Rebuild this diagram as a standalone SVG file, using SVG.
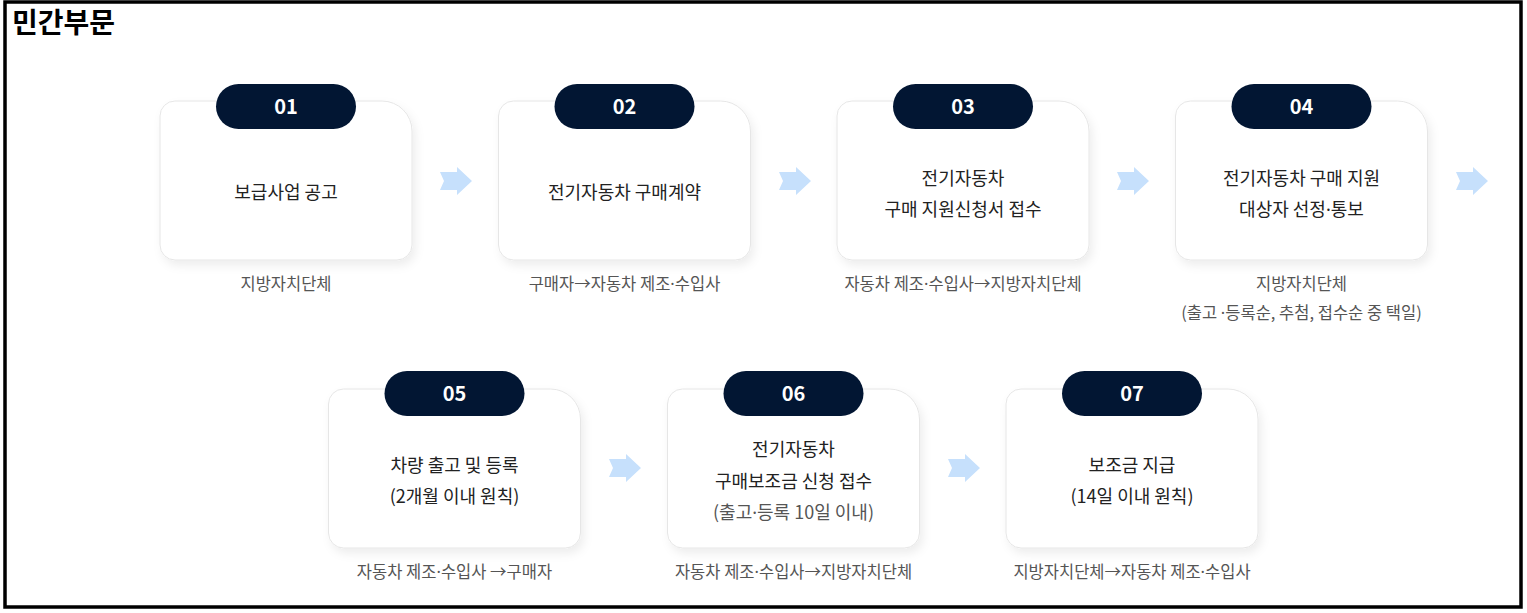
<svg xmlns="http://www.w3.org/2000/svg" xmlns:xlink="http://www.w3.org/1999/xlink" width="1527" height="613" viewBox="0 0 1527 613">
<defs>
<filter id="sh" x="-10%" y="-10%" width="125%" height="130%">
<feDropShadow dx="3" dy="5" stdDeviation="5" flood-color="#000" flood-opacity="0.07"/>
</filter>
<path id="card" d="M15,0 H222 A30,30 0 0 1 252,30 V144 A15,15 0 0 1 237,159 H15 A15,15 0 0 1 0,144 V15 A15,15 0 0 1 15,0 Z"/>
<polygon id="arr" points="-16,-9 1,-9 1,-14 16,0 1,14 1,9 -16,9 -12,0"/>
<style>
.c{fill:#fff;stroke:#e6e6e6;stroke-width:1;filter:url(#sh)}
.p{fill:#021633}
.n{font-family:"Noto Sans CJK KR","Noto Sans",sans-serif;font-size:20px;font-weight:700;fill:#fff;text-anchor:middle}
.m{font-family:"Noto Sans CJK KR","Noto Sans",sans-serif;font-size:18px;fill:#222;text-anchor:middle}
.g{fill:#555}
.s{font-family:"Noto Sans CJK KR","Noto Sans",sans-serif;font-size:16.5px;fill:#555;text-anchor:middle}
.d{font-family:"Noto Sans","DejaVu Sans",sans-serif}
.a{fill:#c6e0fc}
</style>
</defs>
<rect x="0" y="0" width="1527" height="613" fill="#fff"/>
<rect x="5" y="2" width="1516" height="605" fill="none" stroke="#000" stroke-width="3.5"/>
<text x="12" y="33" font-family="'Noto Sans CJK KR',sans-serif" font-size="28" font-weight="700" fill="#000">민간부문</text>

<g id="connectors">
<use xlink:href="#arr" class="a" x="456" y="181"/>
<use xlink:href="#arr" class="a" x="795" y="181"/>
<use xlink:href="#arr" class="a" x="1133" y="181"/>
<use xlink:href="#arr" class="a" x="1472" y="181"/>
<use xlink:href="#arr" class="a" x="625" y="468"/>
<use xlink:href="#arr" class="a" x="964" y="468"/>
</g>

<g id="n01">
<use xlink:href="#card" class="c" x="160" y="101"/>
<rect class="p" x="216" y="84" width="140" height="45" rx="22.5"/>
<text class="n" x="286" y="114">01</text>
<text class="m" x="286" y="199">보급사업 공고</text>
<text class="s" x="286" y="290">지방자치단체</text>
</g>

<g id="n02">
<use xlink:href="#card" class="c" x="498.5" y="101"/>
<rect class="p" x="554.5" y="84" width="140" height="45" rx="22.5"/>
<text class="n" x="624.5" y="114">02</text>
<text class="m" x="624.5" y="199">전기자동차 구매계약</text>
<text class="s" x="624.5" y="290">구매자→자동차 제조<tspan class="d">·</tspan>수입사</text>
</g>

<g id="n03">
<use xlink:href="#card" class="c" x="837" y="101"/>
<rect class="p" x="893" y="84" width="140" height="45" rx="22.5"/>
<text class="n" x="963" y="114">03</text>
<text class="m" x="963" y="185">전기자동차</text>
<text class="m" x="963" y="216">구매 지원신청서 접수</text>
<text class="s" x="963" y="290">자동차 제조<tspan class="d">·</tspan>수입사→지방자치단체</text>
</g>

<g id="n04">
<use xlink:href="#card" class="c" x="1175.5" y="101"/>
<rect class="p" x="1231.5" y="84" width="140" height="45" rx="22.5"/>
<text class="n" x="1301.5" y="114">04</text>
<text class="m" x="1301.5" y="185">전기자동차 구매 지원</text>
<text class="m" x="1301.5" y="216">대상자 선정<tspan class="d">·</tspan>통보</text>
<text class="s" x="1301.5" y="290">지방자치단체</text>
<text class="s" x="1301.5" y="319">(출고 <tspan class="d">·</tspan>등록순, 추첨, 접수순 중 택일)</text>
</g>

<g id="n05">
<use xlink:href="#card" class="c" x="328.5" y="389"/>
<rect class="p" x="384.5" y="371" width="140" height="45" rx="22.5"/>
<text class="n" x="454.5" y="401">05</text>
<text class="m" x="454.5" y="472">차량 출고 및 등록</text>
<text class="m" x="454.5" y="503">(2개월 이내 원칙)</text>
<text class="s" x="454.5" y="578">자동차 제조<tspan class="d">·</tspan>수입사 →구매자</text>
</g>

<g id="n06">
<use xlink:href="#card" class="c" x="667.5" y="389"/>
<rect class="p" x="723.5" y="371" width="140" height="45" rx="22.5"/>
<text class="n" x="793.5" y="401">06</text>
<text class="m" x="793.5" y="456">전기자동차</text>
<text class="m" x="793.5" y="488">구매보조금 신청 접수</text>
<text class="m g" x="793.5" y="519">(출고<tspan class="d">·</tspan>등록 10일 이내)</text>
<text class="s" x="793.5" y="578">자동차 제조<tspan class="d">·</tspan>수입사→지방자치단체</text>
</g>

<g id="n07">
<use xlink:href="#card" class="c" x="1006" y="389"/>
<rect class="p" x="1062" y="371" width="140" height="45" rx="22.5"/>
<text class="n" x="1132" y="401">07</text>
<text class="m" x="1132" y="472">보조금 지급</text>
<text class="m" x="1132" y="503">(14일 이내 원칙)</text>
<text class="s" x="1132" y="578">지방자치단체→자동차 제조<tspan class="d">·</tspan>수입사</text>
</g>
</svg>
